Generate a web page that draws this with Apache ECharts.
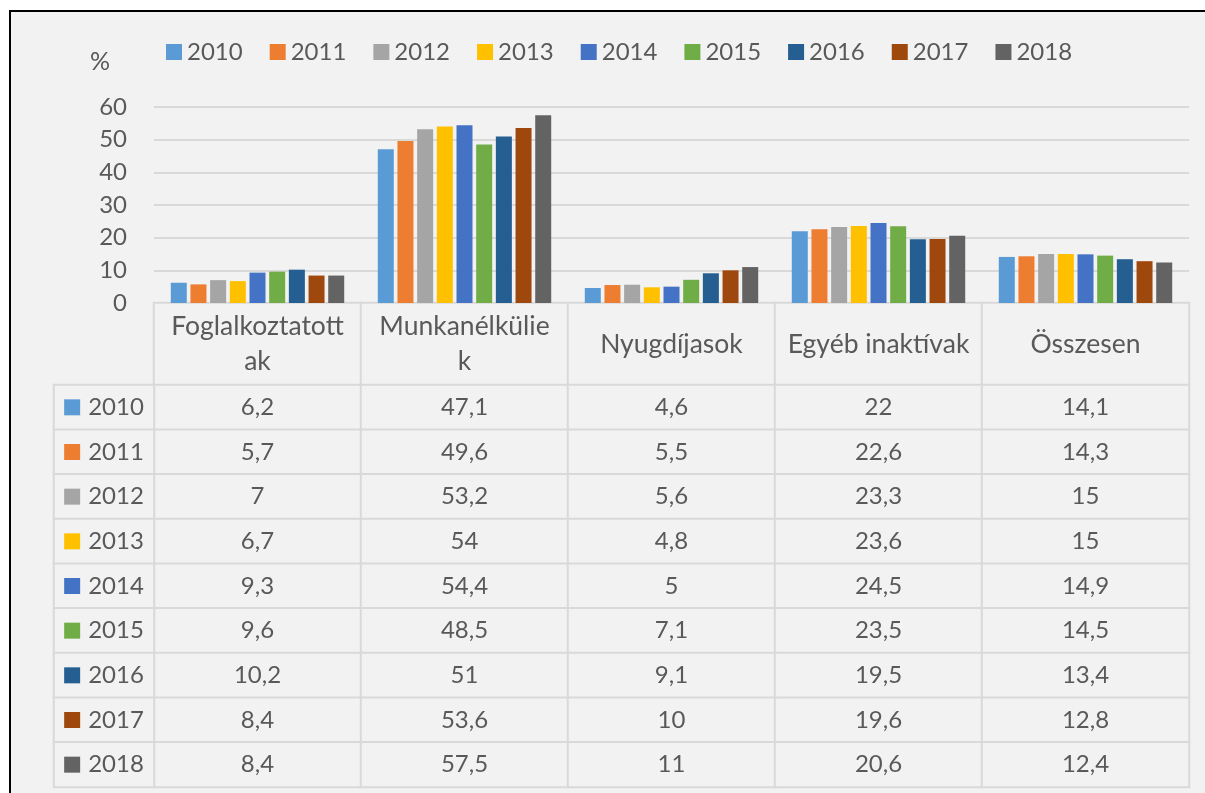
<!DOCTYPE html>
<html><head><meta charset="utf-8">
<script src="https://cdn.jsdelivr.net/npm/echarts@6/dist/echarts.min.js"></script>
<style>
html,body{margin:0;padding:0;background:#fff;overflow:hidden;width:1205px;height:793px;}
#frame{position:absolute;left:9px;top:10px;right:0;bottom:0;border-left:2px solid #000;border-top:2px solid #000;background:#f2f2f2;}
#chart{position:absolute;left:0;top:0;width:1205px;height:793px;}
</style></head><body>
<div id="frame"></div><div id="chart"></div>
<script>
const categories = ['Foglalkoztatottak', 'Munkanélküliek', 'Nyugdíjasok', 'Egyéb inaktívak', 'Összesen'];
const headerLabels = ['Foglalkoztatott\nak', 'Munkanélkülie\nk', 'Nyugdíjasok', 'Egyéb inaktívak', 'Összesen'];
const years = ['2010', '2011', '2012', '2013', '2014', '2015', '2016', '2017', '2018'];
const colors = ['#5B9BD5', '#ED7D31', '#A5A5A5', '#FFC000', '#4472C4', '#70AD47', '#255E91', '#9E480E', '#636363'];
const v2010 = [6.2, 47.1, 4.6, 22, 14.1];
const v2011 = [5.7, 49.6, 5.5, 22.6, 14.3];
const v2012 = [7, 53.2, 5.6, 23.3, 15];
const v2013 = [6.7, 54, 4.8, 23.6, 15];
const v2014 = [9.3, 54.4, 5, 24.5, 14.9];
const v2015 = [9.6, 48.5, 7.1, 23.5, 14.5];
const v2016 = [10.2, 51, 9.1, 19.5, 13.4];
const v2017 = [8.4, 53.6, 10, 19.6, 12.8];
const v2018 = [8.4, 57.5, 11, 20.6, 12.4];
const yTicks = { min: 0, max: 60, interval: 10 };

const values = [v2010, v2011, v2012, v2013, v2014, v2015, v2016, v2017, v2018];
const FONT = 'Lato';
const FS = 24;
const TXT = '#595959';
const LINE = '#d9d9d9';
const fmt = v => String(v).replace('.', ',');

const barSeries = years.map((y, i) => ({
  name: y, type: 'bar', xAxisIndex: 0, yAxisIndex: 0,
  data: values[i], barWidth: 16, barGap: '23%',
  itemStyle: { color: colors[i] },
  emphasis: { disabled: true }
}));

const headerData = categories.map((c, ci) => [ci, 0, ci]);
const tableData = [];
years.forEach((y, yi) => categories.forEach((c, ci) => tableData.push([ci, yi, values[yi][ci]])));
const labelData = years.map((y, yi) => [0, yi, yi]);
const rich = {};
colors.forEach((c, i) => { rich['s' + i] = { width: 16, height: 16, backgroundColor: c }; });
rich.t = { fontFamily: FONT, fontSize: FS, color: TXT, padding: [0, 0, 0, 8] };

const cellStyle = { color: '#f2f2f2', borderColor: LINE, borderWidth: 2 };
const cellLabel = { show: true, fontFamily: FONT, fontSize: FS, color: TXT };

const option = {
  animation: false,
  backgroundColor: 'transparent',
  textStyle: { fontFamily: FONT },
  title: { text: '%', left: 85, top: 44, textStyle: { fontFamily: FONT, fontSize: 25, fontWeight: 'normal', color: TXT } },
  legend: {
    data: years, left: 161, top: 35, icon: 'rect', itemWidth: 16, itemHeight: 16, itemGap: 27,
    textStyle: { fontFamily: FONT, fontSize: FS, color: TXT }
  },
  grid: [
    { left: 154, right: 16, top: 107, height: 196 },
    { left: 154, right: 16, top: 303, height: 82 },
    { left: 154, right: 16, top: 385, height: 402 },
    { left: 54, width: 100, top: 385, height: 402 }
  ],
  xAxis: [
    { gridIndex: 0, type: 'category', data: categories, axisLabel: { show: false }, axisTick: { show: false }, axisLine: { lineStyle: { color: LINE, width: 2 } } },
    { gridIndex: 1, type: 'category', data: categories, show: false },
    { gridIndex: 2, type: 'category', data: categories, show: false },
    { gridIndex: 3, type: 'category', data: ['r'], show: false }
  ],
  yAxis: [
    { gridIndex: 0, type: 'value', min: yTicks.min, max: yTicks.max, interval: yTicks.interval,
      axisLabel: { fontFamily: FONT, fontSize: FS, color: TXT, margin: 27 },
      axisLine: { show: false }, axisTick: { show: false },
      splitLine: { lineStyle: { color: LINE, width: 2 } } },
    { gridIndex: 1, type: 'category', data: ['h'], show: false },
    { gridIndex: 2, type: 'category', data: years, inverse: true, show: false },
    { gridIndex: 3, type: 'category', data: years, inverse: true, show: false }
  ],
  series: barSeries.concat([
    { name: 'header', type: 'heatmap', xAxisIndex: 1, yAxisIndex: 1, data: headerData,
      itemStyle: cellStyle, emphasis: { disabled: true },
      label: Object.assign({}, cellLabel, { fontSize: 26.5, lineHeight: 35, formatter: p => headerLabels[p.data[2]] }) },
    { name: 'table', type: 'heatmap', xAxisIndex: 2, yAxisIndex: 2, data: tableData,
      itemStyle: cellStyle, emphasis: { disabled: true },
      label: Object.assign({}, cellLabel, { formatter: p => fmt(p.data[2]) }) },
    { name: 'rows', type: 'heatmap', xAxisIndex: 3, yAxisIndex: 3, data: labelData,
      itemStyle: cellStyle, emphasis: { disabled: true },
      label: Object.assign({}, cellLabel, { rich: rich, formatter: p => '{s' + p.data[2] + '|}{t|' + years[p.data[2]] + '}' }) }
  ])
};
const chart = echarts.init(document.getElementById('chart'), null, { renderer: 'canvas' });
chart.setOption(option);
</script></body></html>
